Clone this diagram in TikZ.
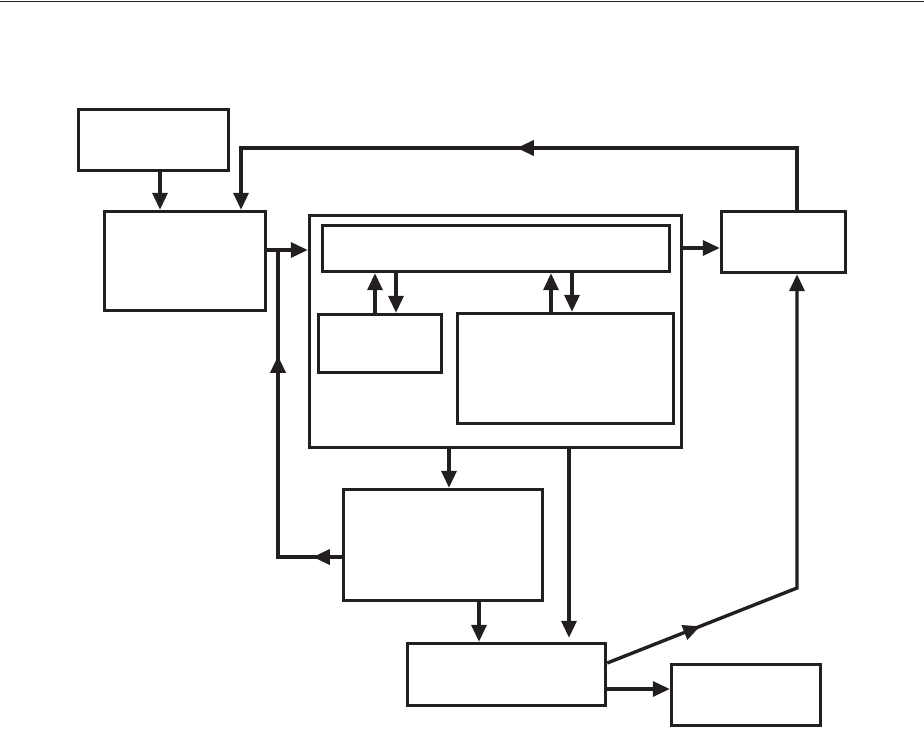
\documentclass[tikz,border=0pt]{standalone}
\usetikzlibrary{arrows.meta,decorations.markings,calc}
\definecolor{ink}{RGB}{35,31,32}
\begin{document}
\begin{tikzpicture}[x=1pt,y=-1pt,
  >={Triangle[length=17pt,width=15pt]},
  blk/.style={draw=ink,line width=3.4pt,inner sep=0pt,minimum width=#1},
  conn/.style={draw=ink,line width=3.4pt},
  marr/.style={postaction={decorate,decoration={markings,mark=at position #1 with {\arrow[ink]{>}}}}}]
\useasboundingbox (0,0) rectangle (924,730);
\draw[ink,line width=1.4pt] (0,1.5) coordinate (t0) -- (924,1.5) coordinate (t1);
% boxes
\node[blk=150pt,minimum height=61pt] (A) at (153.5,140) {};
\node[blk=161pt,minimum height=99pt] (B) at (185,261) {};
\node[blk=372pt,minimum height=232pt] (D) at (495.5,331.5) {};
\node[blk=347pt,minimum height=46pt] (E) at (496,248.5) {};
\node[blk=123pt,minimum height=58pt] (F) at (380,343.5) {};
\node[blk=216pt,minimum height=110pt] (G) at (565.5,368.5) {};
\node[blk=124pt,minimum height=61pt] (H) at (783.5,242) {};
\node[blk=199pt,minimum height=111pt] (C) at (443,545) {};
\node[blk=198pt,minimum height=62pt] (I) at (506.5,674.5) {};
\node[blk=149pt,minimum height=61pt] (J) at (746,695) {};
\coordinate (fbtop) at (797,148);
\coordinate (jn) at (278,250);
\coordinate (kink) at (797,588);
% connectors
\draw[conn,->,ink] ([xshift=6.5pt]A.south) -- ([xshift=6.5pt]A.south |- B.north);
\draw[conn,->,ink,marr=342pt] ([xshift=13.5pt]H.north) -- (fbtop) -| ([xshift=56pt]B.north);
\draw[conn,->,ink] ([yshift=11pt]B.east) -- ([yshift=11pt]B.east -| D.west);
\draw[conn,ink,marr=29pt,marr=265pt] ([yshift=-12pt]C.west) -| (jn);
\draw[conn,->,ink] ([yshift=83.5pt]D.east) -- ([yshift=83.5pt]D.east -| H.west);
\draw[conn,->,ink] ([xshift=-5pt]F.north) -- ([xshift=-5pt]F.north |- E.south);
\draw[conn,->,ink] ([xshift=16pt]F.north |- E.south) -- ([xshift=16pt]F.north);
\draw[conn,->,ink] ([xshift=-14.5pt]G.north) -- ([xshift=-14.5pt]G.north |- E.south);
\draw[conn,->,ink] ([xshift=6.5pt]G.north |- E.south) -- ([xshift=6.5pt]G.north);
\draw[conn,->,ink] ([xshift=-46.5pt]D.south) -- ([xshift=-46.5pt]D.south |- C.north);
\draw[conn,->,ink] ([xshift=73.5pt]D.south) -- ([xshift=73.5pt,yshift=4pt]D.south |- I.north);
\draw[conn,->,ink] ([xshift=36pt]C.south) -- ([xshift=36pt]C.south |- I.north);
\draw[conn,->,ink] ([yshift=-14.5pt]I.east) -- ([yshift=-14.5pt]I.east -| J.west);
\draw[conn,->,ink,marr=100pt] ([yshift=11.5pt]I.east) -- (kink) -- ([xshift=13.5pt]H.south);
\end{tikzpicture}
\end{document}
